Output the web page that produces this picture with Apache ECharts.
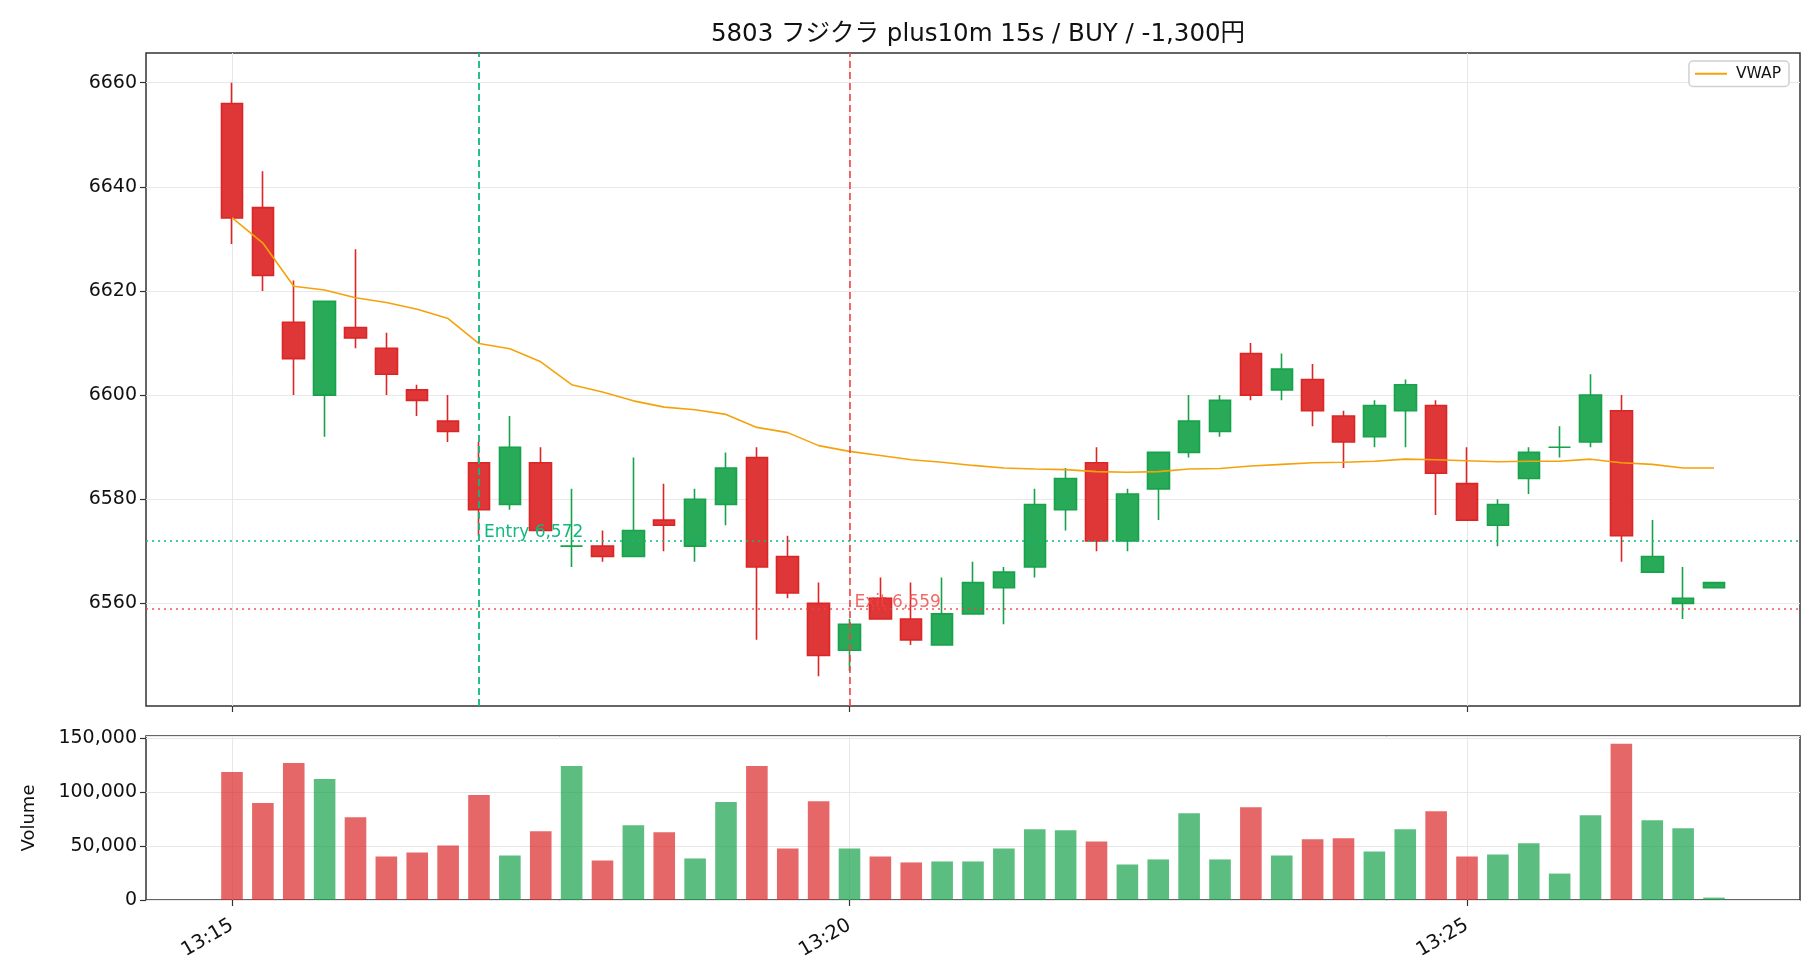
<!DOCTYPE html>
<html>
<head>
<meta charset="utf-8">
<script src="https://cdn.jsdelivr.net/npm/echarts@6/dist/echarts.min.js"></script>
<style>
  html, body { margin: 0; padding: 0; background: #fff; }
  #chart { width: 1820px; height: 980px; }
</style>
</head>
<body>
<div id="chart"></div>
<script>
// 15s bars, 13:15:00 - 13:27:00
const times = [
  '13:15:00','13:15:15','13:15:30','13:15:45','13:16:00','13:16:15','13:16:30','13:16:45',
  '13:17:00','13:17:15','13:17:30','13:17:45','13:18:00','13:18:15','13:18:30','13:18:45',
  '13:19:00','13:19:15','13:19:30','13:19:45','13:20:00','13:20:15','13:20:30','13:20:45',
  '13:21:00','13:21:15','13:21:30','13:21:45','13:22:00','13:22:15','13:22:30','13:22:45',
  '13:23:00','13:23:15','13:23:30','13:23:45','13:24:00','13:24:15','13:24:30','13:24:45',
  '13:25:00','13:25:15','13:25:30','13:25:45','13:26:00','13:26:15','13:26:30','13:26:45',
  '13:27:00'
]
const opens = [6656,6636,6614,6600,6613,6609,6601,6595,6587,6579,6587,6571,6571,6569,6576,6571,
  6579,6588,6569,6560,6551,6561,6557,6552,6558,6563,6567,6578,6587,6572,6582,6589,
  6593,6608,6601,6603,6596,6592,6597,6598,6583,6575,6584,6590,6591,6597,6566,6560,6563]
const closes = [6634,6623,6607,6618,6611,6604,6599,6593,6578,6590,6574,6571,6569,6574,6575,6580,
  6586,6567,6562,6550,6556,6557,6553,6558,6564,6566,6579,6584,6572,6581,6589,6595,
  6599,6600,6605,6597,6591,6598,6602,6585,6576,6579,6589,6590,6600,6573,6569,6561,6564]
const highs = [6660,6643,6622,6618,6628,6612,6602,6600,6591,6596,6590,6582,6574,6588,6583,6582,
  6589,6590,6573,6564,6557,6565,6564,6565,6568,6567,6582,6586,6590,6582,6589,6600,
  6600,6610,6608,6606,6597,6599,6603,6599,6590,6580,6590,6594,6604,6600,6576,6567,6564]
const lows = [6629,6620,6600,6592,6609,6600,6596,6591,6573,6578,6574,6567,6568,6569,6570,6568,
  6575,6553,6561,6546,6547,6557,6552,6552,6558,6556,6565,6574,6570,6570,6576,6588,
  6592,6599,6599,6594,6586,6590,6590,6577,6576,6571,6581,6588,6590,6568,6566,6557,6563]
const vwap = [6634.1,6629.2,6620.9,6620.2,6618.7,6617.8,6616.5,6614.7,6609.9,6608.9,6606.4,
  6602.0,6600.6,6598.9,6597.7,6597.2,6596.3,6593.8,6592.8,6590.3,6589.2,6588.4,6587.6,6587.1,
  6586.5,6586.0,6585.8,6585.7,6585.3,6585.2,6585.3,6585.8,6585.9,6586.4,6586.7,6587.0,6587.1,
  6587.3,6587.7,6587.6,6587.4,6587.2,6587.3,6587.3,6587.7,6587.0,6586.7,6586.0,6586.0]
const volumes = [118600,89800,127000,112100,76700,40400,44100,50600,97200,41300,63700,124200,
  36600,69300,62700,38500,90700,124200,47800,91600,47800,40400,34800,35700,35700,47800,
  65500,64600,54300,32900,37600,80400,37600,86000,41300,56200,57100,45000,65500,82300,
  40400,42200,52500,24500,78600,144700,73900,66500,2200]
const timeTicks = ['13:15', '13:20', '13:25']
const priceTicks = [6560, 6580, 6600, 6620, 6640, 6660]
const entry = { time: '13:17:00', price: 6572 }
const exit = { time: '13:20:00', price: 6559 }
const title = '5803 フジクラ plus10m 15s / BUY / -1,300円'

const UP = '#16a34a'
const DOWN = '#dc2626'
const FONT = '"DejaVu Sans", "Noto Sans CJK JP", sans-serif'

const toSec = s => {
  const p = s.split(':').map(Number)
  return p[0] * 3600 + p[1] * 60 + (p[2] || 0)
}
const fmtTime = v => {
  const h = Math.floor(v / 3600), m = Math.round((v % 3600) / 60)
  return h + ':' + String(m).padStart(2, '0')
}
const xs = times.map(toSec)
const step = 15
const barFrac = 0.7
// matplotlib-like 5% margins around the bar extents
const x0 = xs[0] - step * barFrac / 2
const x1 = xs[xs.length - 1] + step * barFrac / 2
const xMin = x0 - (x1 - x0) * 0.05
const xMax = x1 + (x1 - x0) * 0.05
const pLo = Math.min(...lows), pHi = Math.max(...highs)
const yMin = pLo - (pHi - pLo) * 0.05
const yMax = pHi + (pHi - pLo) * 0.05
const vMax = Math.max(...volumes) * 1.05
const tickSecs = timeTicks.map(toSec)

const candleData = xs.map((x, i) => [x, opens[i], closes[i], lows[i], highs[i]])
const volData = xs.map((x, i) => ({
  value: [x, volumes[i]],
  itemStyle: { color: closes[i] >= opens[i] ? 'rgba(22,163,74,0.7)' : 'rgba(220,38,38,0.7)' }
}))
const vwapData = xs.map((x, i) => [x, vwap[i]])

const gridL = 146, gridR = 20
const axisText = { fontSize: 19, color: '#111', fontFamily: FONT }
const splitLine = { show: true, lineStyle: { color: '#e8e8e8', width: 1 } }
const tick = { show: true, length: 6, lineStyle: { color: '#333', width: 1.2 } }

const chart = echarts.init(document.getElementById('chart'), null, { renderer: 'canvas' })
chart.setOption({
  animation: false,
  backgroundColor: '#fff',
  textStyle: { fontFamily: FONT },
  title: {
    text: title,
    left: 973,
    top: 17,
    textAlign: 'center',
    textStyle: { fontSize: 24.5, fontWeight: 'normal', color: '#111', fontFamily: FONT }
  },
  legend: {
    data: [{ name: 'VWAP', icon: 'path://M0,0 H32 V2 H0 Z' }],
    right: 31,
    top: 61,
    itemWidth: 32,
    itemHeight: 2,
    itemGap: 10,
    padding: [5, 8, 5, 6],
    borderColor: '#d0d0d0',
    borderWidth: 1.5,
    borderRadius: 4,
    backgroundColor: '#fff',
    textStyle: { fontSize: 15.5, color: '#111', fontFamily: FONT, padding: [0, 0, 0, 4] }
  },
  grid: [
    { left: gridL, right: gridR, top: 53, height: 653, show: true, borderColor: '#333', borderWidth: 1.5, backgroundColor: 'transparent' },
    { left: gridL, right: gridR, top: 736, height: 164, show: true, borderColor: '#333', borderWidth: 1.5, backgroundColor: 'transparent' }
  ],
  xAxis: [
    {
      type: 'value', gridIndex: 0, min: xMin, max: xMax,
      axisLine: { show: false },
      axisTick: Object.assign({ customValues: tickSecs }, tick),
      axisLabel: { show: false, customValues: tickSecs },
      splitLine: splitLine
    },
    {
      type: 'value', gridIndex: 1, min: xMin, max: xMax,
      axisLine: { show: false },
      axisTick: Object.assign({ customValues: tickSecs }, tick),
      axisLabel: Object.assign({ customValues: tickSecs, rotate: 30, margin: 24, formatter: fmtTime }, axisText, { fontSize: 19.5 }),
      splitLine: splitLine
    }
  ],
  yAxis: [
    {
      type: 'value', gridIndex: 0, min: yMin, max: yMax,
      axisLine: { show: false },
      axisTick: Object.assign({ customValues: priceTicks }, tick),
      axisLabel: Object.assign({ customValues: priceTicks, margin: 9, formatter: v => String(v) }, axisText),
      splitLine: splitLine
    },
    {
      type: 'value', gridIndex: 1, min: 0, max: vMax, interval: 50000,
      name: 'Volume', nameLocation: 'middle', nameGap: 108,
      nameTextStyle: { fontSize: 18, color: '#111', fontFamily: FONT },
      axisLine: { show: false },
      axisTick: tick,
      axisLabel: Object.assign({ margin: 9, formatter: v => v.toLocaleString('en-US') }, axisText),
      splitLine: splitLine
    }
  ],
  series: [
    {
      type: 'candlestick',
      name: 'price',
      xAxisIndex: 0, yAxisIndex: 0,
      encode: { x: 0, y: [1, 2, 3, 4] },
      barWidth: 22,
      itemStyle: {
        color: 'rgba(22,163,74,0.92)', color0: 'rgba(220,38,38,0.92)',
        borderColor: UP, borderColor0: DOWN, borderColorDoji: UP, borderWidth: 1.6
      },
      data: candleData,
      markLine: {
        silent: true,
        symbol: 'none',
        label: { show: false },
        data: [
          { xAxis: toSec(entry.time), lineStyle: { color: '#10b981', type: [7, 4], width: 1.8 } },
          { xAxis: toSec(exit.time), lineStyle: { color: 'rgba(239,68,68,0.9)', type: [7, 4], width: 1.8 } },
          { yAxis: entry.price, lineStyle: { color: '#10b981', type: [2, 4], width: 1.6 } },
          { yAxis: exit.price, lineStyle: { color: 'rgba(239,68,68,0.9)', type: [2, 4], width: 1.6 } }
        ]
      },
      markPoint: {
        silent: true,
        symbol: 'circle',
        symbolSize: 0,
        data: [
          {
            coord: [toSec(entry.time), entry.price],
            label: {
              show: true, formatter: 'Entry ' + entry.price.toLocaleString('en-US'),
              position: [5, 0], align: 'left', verticalAlign: 'bottom',
              fontSize: 17, color: '#10b981', fontFamily: FONT
            }
          },
          {
            coord: [toSec(exit.time), exit.price],
            label: {
              show: true, formatter: 'Exit ' + exit.price.toLocaleString('en-US'),
              position: [5, 2], align: 'left', verticalAlign: 'bottom',
              fontSize: 17, color: 'rgba(239,68,68,0.8)', fontFamily: FONT
            }
          }
        ]
      }
    },
    {
      type: 'line',
      name: 'VWAP',
      xAxisIndex: 0, yAxisIndex: 0,
      symbol: 'none',
      data: vwapData,
      lineStyle: { color: '#f5a20a', width: 1.6 },
      itemStyle: { color: '#f5a20a' },
      z: 3
    },
    {
      type: 'bar',
      name: 'volume',
      xAxisIndex: 1, yAxisIndex: 1,
      barWidth: 21.6,
      data: volData
    }
  ]
})
</script>
</body>
</html>
